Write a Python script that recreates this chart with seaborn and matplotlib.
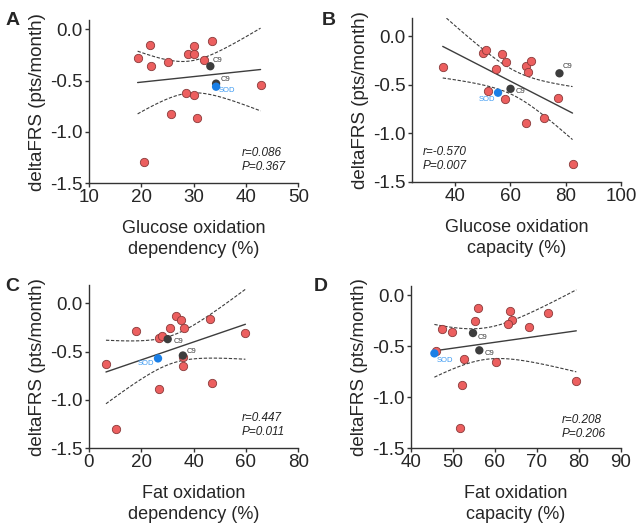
import numpy as np
import pandas as pd
import seaborn as sns
import matplotlib
matplotlib.use('Agg')
import matplotlib.pyplot as plt

# deltaFRS vs. metabolic measures; last three points are C9, C9 and SOD
groups = ['ALS'] * 15 + ['C9', 'C9', 'SOD']

glc_dep_x = [19.3, 21.6, 21.9, 25.1, 28.9, 30.1, 30.1, 31.9, 33.6, 42.8, 28.6, 30.1, 25.7, 30.6, 20.5, 33.2, 34.3, 34.3]
glc_dep_y = [-0.28, -0.15, -0.36, -0.32, -0.24, -0.16, -0.24, -0.30, -0.11, -0.54, -0.62, -0.64, -0.83, -0.87, -1.29, -0.36, -0.53, -0.56]

glc_cap_x = [35.7, 50.1, 51.3, 57.2, 58.4, 54.9, 65.6, 67.5, 66.3, 51.9, 58.2, 77.1, 72.3, 65.7, 82.4, 77.7, 60.1, 55.6]
glc_cap_y = [-0.31, -0.17, -0.14, -0.18, -0.26, -0.34, -0.30, -0.25, -0.37, -0.56, -0.65, -0.63, -0.84, -0.89, -1.31, -0.38, -0.54, -0.58]

fat_dep_x = [6.5, 17.8, 26.8, 27.8, 30.9, 33.3, 35.1, 36.4, 46.2, 59.8, 35.8, 36.0, 47.0, 26.6, 10.5, 30.1, 35.9, 26.4]
fat_dep_y = [-0.63, -0.29, -0.36, -0.34, -0.25, -0.13, -0.17, -0.25, -0.16, -0.31, -0.56, -0.65, -0.83, -0.89, -1.30, -0.37, -0.54, -0.57]

fat_cap_x = [46.0, 47.5, 49.7, 55.2, 56.0, 63.5, 64.0, 63.2, 68.1, 72.6, 52.7, 60.3, 52.1, 79.4, 51.7, 54.8, 56.3, 45.6]
fat_cap_y = [-0.55, -0.33, -0.36, -0.25, -0.12, -0.15, -0.24, -0.28, -0.31, -0.17, -0.63, -0.65, -0.88, -0.84, -1.30, -0.37, -0.54, -0.57]

stats_text = ['r=0.086\nP=0.367', 'r=-0.570\nP=0.007', 'r=0.447\nP=0.011', 'r=0.208\nP=0.206']
xlabels = ['Glucose oxidation\ndependency (%)', 'Glucose oxidation\ncapacity (%)',
           'Fat oxidation\ndependency (%)', 'Fat oxidation\ncapacity (%)']
xticks = [[10, 20, 30, 40, 50], [40, 60, 80, 100], [0, 20, 40, 60, 80], [40, 50, 60, 70, 80, 90]]
xlims = [(10, 50), (24.7, 100), (0, 80), (40, 90)]
ylims = [(-1.5, 0.09), (-1.5, 0.19), (-1.5, 0.19), (-1.5, 0.09)]
letters = ['A', 'B', 'C', 'D']

sns.set_style('ticks')
plt.rcParams['font.family'] = ['Liberation Sans', 'DejaVu Sans']
plt.rcParams['axes.unicode_minus'] = False

RED = '#ec5f5f'
DARK = '#3d3d3d'
BLUE = '#1a7fe6'
AX = '#333333'

fig = plt.figure(figsize=(6.4, 5.29), dpi=100)
positions = [[0.139, 0.654, 0.327, 0.308], [0.644, 0.656, 0.327, 0.310],
             [0.139, 0.153, 0.327, 0.308], [0.642, 0.153, 0.328, 0.306]]
letter_pos = [(0.008, 0.978), (0.503, 0.978), (0.008, 0.475), (0.49, 0.475)]
stat_pos = [(0.73, 0.06), (0.05, 0.06), (0.73, 0.06), (0.72, 0.05)]
# label offsets (points) for C9, C9, SOD
label_off = [
    [((2, 4), 'left'), ((3, 3), 'left'), ((2, -3), 'left')],
    [((2, 5), 'left'), ((4, -2), 'left'), ((-2, -5), 'right')],
    [((4, -2), 'left'), ((3, 3), 'left'), ((-3, -4), 'right')],
    [((3, -3), 'left'), ((4, -2), 'left'), ((2, -5), 'left')],
]

data = [(glc_dep_x, glc_dep_y), (glc_cap_x, glc_cap_y), (fat_dep_x, fat_dep_y), (fat_cap_x, fat_cap_y)]
T_CRIT = 2.120  # t(0.975, df=16)

for i, (xs, ys) in enumerate(data):
    ax = fig.add_axes(positions[i])
    df = pd.DataFrame({'x': xs, 'y': ys, 'group': groups})

    # fit line
    sns.regplot(data=df, x='x', y='y', scatter=False, ci=None, ax=ax,
                line_kws=dict(color=DARK, lw=1.0, zorder=1))

    # 95% confidence band of the fit, drawn as dashed curves
    x = np.asarray(xs)
    y = np.asarray(ys)
    n = len(x)
    b, a = np.polyfit(x, y, 1)
    resid = y - (a + b * x)
    s = np.sqrt(np.sum(resid ** 2) / (n - 2))
    xx = np.linspace(x.min(), x.max(), 100)
    se = s * np.sqrt(1 / n + (xx - x.mean()) ** 2 / np.sum((x - x.mean()) ** 2))
    yy = a + b * xx
    ax.plot(xx, yy + T_CRIT * se, ls=(0, (3, 1.5)), color=DARK, lw=0.8, zorder=1)
    ax.plot(xx, yy - T_CRIT * se, ls=(0, (3, 1.5)), color=DARK, lw=0.8, zorder=1)

    sns.scatterplot(data=df[df.group == 'ALS'], x='x', y='y', color=RED, s=36,
                    edgecolor='#8a3a3a', linewidth=0.6, ax=ax, zorder=3, legend=False)
    special = df[df.group != 'ALS']
    sns.scatterplot(data=special, x='x', y='y', hue='group',
                    palette={'C9': DARK, 'SOD': BLUE}, s=36, edgecolor='none',
                    ax=ax, zorder=4, legend=False)
    for (idx, row), ((dx, dy), ha) in zip(special.iterrows(), label_off[i]):
        ax.annotate(row['group'], (row['x'], row['y']), xytext=(dx, dy),
                    textcoords='offset points', ha=ha, va='center', fontsize=5.5,
                    color=DARK if row['group'] == 'C9' else '#3d9af2')

    ax.text(stat_pos[i][0], stat_pos[i][1], stats_text[i], transform=ax.transAxes,
            fontsize=8.5, style='italic', color='#222222', ha='left', va='bottom',
            linespacing=1.25)

    ax.set_xlim(*xlims[i])
    ax.set_ylim(*ylims[i])
    ax.set_xticks(xticks[i])
    ax.set_yticks([-1.5, -1.0, -0.5, 0.0])
    ax.set_yticklabels(['-1.5', '-1.0', '-0.5', '0.0'])
    ax.set_xlabel(xlabels[i], fontsize=13, labelpad=10, linespacing=1.3)
    ax.set_ylabel('deltaFRS (pts/month)', fontsize=13.5, labelpad=3)
    ax.tick_params(labelsize=13.5, length=3, width=1, color=AX, pad=1.5)
    sns.despine(ax=ax)
    for sp in ['left', 'bottom']:
        ax.spines[sp].set_color(AX)
        ax.spines[sp].set_linewidth(1.0)

    fig.text(letter_pos[i][0], letter_pos[i][1], letters[i], fontsize=14,
             fontweight='bold', ha='left', va='top')

fig.savefig('out.png', dpi=100)
